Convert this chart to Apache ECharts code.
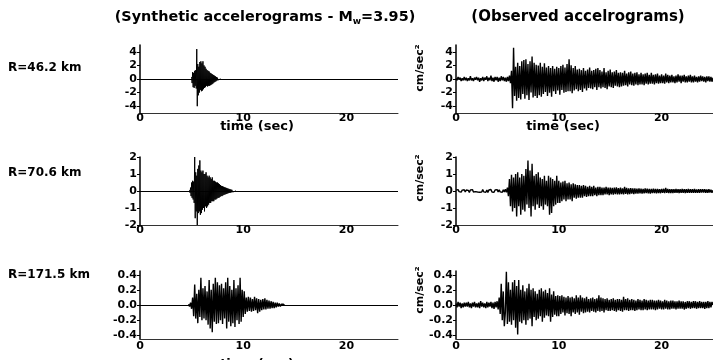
<!DOCTYPE html>
<html><head><meta charset="utf-8">
<script src="https://cdn.jsdelivr.net/npm/echarts@6/dist/echarts.min.js"></script>
<style>html,body{margin:0;padding:0;background:#fff}#c{width:713px;height:360px}</style>
</head><body><div id="c"></div>
<script>
// ---- labels ----
const colTitles = ['(Synthetic accelerograms - M', '(Observed accelrograms)'];
const rowLabels = ['R=46.2 km', 'R=70.6 km', 'R=171.5 km'];
const unitLabel = 'cm/sec²';
const timeLabel = 'time (sec)';
const xTicks = { min: 0, max: 25, interval: 10 };
const yRanges = [[-5, 5], [-2, 2], [-0.45, 0.45]];
const yTickVals = [[-4, -2, 0, 2, 4], [-2, -1, 0, 1, 2], [-0.4, -0.2, 0, 0.2, 0.4]];

// ---- synthetic traces (start time, sample step, values) ----
const syn1Start = 5.0, syn1Dt = 0.05;
const syn1 = [
  0.3,-0.6,1.0,-1.2,0.9,-1.3,1.2,-1.0,1.3,-1.4,
  4.4,-4.0,2.2,-2.4,1.8,-2.0,2.5,-1.6,2.6,-1.8,
  2.3,-1.7,2.6,-1.5,2.0,-1.3,1.8,-1.2,1.5,-1.0,
  1.3,-1.1,1.2,-1.0,1.1,-1.0,0.9,-0.9,0.8,-0.8,
  0.7,-0.7,0.6,-0.55,0.5,-0.45,0.4,-0.35,0.3,-0.25,
  0.2,-0.15,0.1,-0.08,0.05,-0.03,0.01,0];

const syn2Start = 4.8, syn2Dt = 0.05;
const syn2 = [
  0.05,-0.1,0.2,-0.3,0.5,-0.4,0.6,-0.5,0.55,-0.7,
  2.0,-1.6,1.1,-1.2,0.9,-2.0,1.3,-1.3,1.5,-1.2,
  1.8,-1.4,1.2,-1.3,1.1,-1.1,1.2,-1.0,1.0,-1.2,
  1.0,-0.9,1.1,-1.0,0.9,-0.9,0.8,-0.8,0.9,-0.7,
  0.8,-0.7,0.7,-0.6,0.8,-0.6,0.6,-0.6,0.6,-0.5,
  0.55,-0.5,0.5,-0.45,0.5,-0.4,0.45,-0.4,0.4,-0.35,
  0.35,-0.3,0.3,-0.3,0.28,-0.25,0.25,-0.22,0.22,-0.2,
  0.2,-0.18,0.18,-0.15,0.15,-0.13,0.13,-0.11,0.11,-0.1,
  0.09,-0.08,0.07,-0.06,0.05,-0.05,0.04,-0.03,0.02,-0.02,
  0.01,0];

const syn3Start = 4.7, syn3Dt = 0.1;
const syn3 = [
  0.01,-0.02,0.03,
  -0.05,0.1,-0.15,0.27,-0.18,0.15,-0.24,0.2,-0.16,0.36,
  -0.2,0.22,-0.18,0.25,-0.2,0.18,-0.26,0.33,-0.31,0.2,
  -0.36,0.28,-0.22,0.36,-0.25,0.3,-0.24,0.26,-0.2,0.28,
  -0.25,0.22,-0.18,0.3,-0.31,0.36,-0.22,0.25,-0.28,0.2,
  -0.24,0.33,-0.29,0.22,-0.2,0.26,-0.25,0.36,-0.22,0.2,
  -0.16,0.18,-0.12,0.1,-0.09,0.11,-0.08,0.1,-0.09,0.08,
  -0.08,0.11,-0.07,0.09,-0.11,0.08,-0.09,0.07,-0.07,0.08,
  -0.06,0.09,-0.06,0.07,-0.05,0.06,-0.05,0.05,-0.04,0.04,
  -0.04,0.03,-0.03,0.03,-0.02,0.02,-0.02,0.01,-0.01,0.01,
  0];

// ---- observed traces (start 0, step 0.1 s) ----
const obsStart = 0, obsDt = 0.1;
const obs1 = [
  0.1,-0.2,0.3,-0.1,0.2,-0.3,0.1,-0.2,0.3,-0.2,
  0.2,-0.3,0.1,-0.2,0.4,-0.2,0.1,-0.3,0.2,-0.1,
  0.3,-0.2,0.2,-0.4,0.1,-0.2,0.3,-0.3,0.2,-0.1,
  0.4,-0.3,0.2,-0.2,0.5,-0.3,0.2,-0.4,0.3,-0.2,
  0.3,-0.4,0.2,-0.3,0.4,-0.2,0.3,-0.3,0.2,-0.4,
  0.3,-0.3,0.5,-0.6,1.2,-4.3,4.6,-2.5,1.8,-3.2,
  2.4,-2.8,1.9,-3.0,2.6,-2.2,2.8,-2.9,2.9,-2.4,
  2.2,-3.1,2.6,-2.0,3.3,-2.7,2.4,-2.5,2.1,-2.8,
  2.0,-2.4,2.4,-2.6,1.8,-2.2,2.3,-1.9,1.7,-2.5,
  1.9,-2.0,1.6,-2.6,1.9,-1.8,1.5,-2.2,1.8,-1.7,
  1.6,-2.3,1.9,-1.6,2.1,-2.0,1.7,-1.9,2.2,-1.8,
  2.9,-1.8,2.0,-2.1,1.6,-1.7,1.9,-1.5,1.4,-1.8,
  1.5,-1.6,1.3,-1.9,1.6,-1.4,1.2,-1.7,1.4,-1.3,
  1.7,-1.4,1.2,-1.5,1.3,-1.2,1.5,-1.6,1.6,-1.2,
  1.3,-1.4,1.1,-1.2,1.6,-1.3,1.0,-1.5,1.2,-1.1,
  1.4,-1.2,1.0,-1.3,1.1,-1.0,1.3,-1.1,0.9,-1.2,
  1.0,-1.1,0.9,-1.0,1.2,-0.9,0.8,-1.1,1.0,-0.8,
  1.1,-0.9,0.8,-1.0,0.9,-0.8,1.0,-0.9,0.7,-0.8,
  0.9,-0.8,0.7,-0.9,0.8,-0.7,0.9,-0.8,0.6,-0.7,
  0.9,-0.7,0.6,-0.8,0.7,-0.6,0.8,-0.7,0.5,-0.6,
  0.7,-0.6,0.5,-0.7,0.8,-0.5,0.6,-0.6,0.5,-0.5,
  0.6,-0.5,0.4,-0.6,0.5,-0.5,0.7,-0.4,0.5,-0.6,
  0.5,-0.4,0.6,-0.5,0.4,-0.5,0.5,-0.4,0.6,-0.5,
  0.4,-0.5,0.5,-0.4,0.3,-0.5,0.4,-0.4,0.5,-0.3,
  0.4,-0.4,0.3,-0.5,0.4,-0.3,0.4,-0.4,0.3,-0.4,
  0.2];

const obs2 = [
  0.05,-0.06,0.08,-0.04,0.06,-0.07,0.05,-0.05,0.07,-0.06,
  0.06,-0.05,0.04,-0.08,0.06,-0.05,0.08,-0.06,0.05,-0.04,
  0.07,-0.06,0.05,-0.07,0.04,-0.06,0.08,-0.05,0.06,-0.07,
  0.05,-0.08,0.06,-0.05,0.09,-0.06,0.05,-0.07,0.06,-0.05,
  0.08,-0.06,0.07,-0.05,0.06,-0.08,0.07,-0.06,0.1,-0.08,
  0.2,-0.3,0.7,-0.9,0.95,-1.2,0.8,-1.0,1.0,-1.5,
  1.1,-0.9,0.8,-1.4,1.0,-1.1,0.9,-1.2,1.3,-0.8,
  1.8,-1.0,1.2,-1.5,1.6,-0.9,0.9,-1.1,1.0,-0.8,
  1.1,-1.0,0.8,-0.9,0.7,-1.1,0.9,-0.8,0.6,-0.9,
  0.9,-1.4,0.8,-1.3,0.7,-0.9,0.6,-0.8,0.9,-0.7,
  0.6,-0.7,0.5,-0.6,0.55,-0.5,0.6,-0.6,0.45,-0.5,
  0.5,-0.5,0.4,-0.6,0.45,-0.4,0.4,-0.45,0.35,-0.4,
  0.35,-0.4,0.3,-0.4,0.35,-0.3,0.3,-0.35,0.25,-0.3,
  0.3,-0.3,0.25,-0.3,0.3,-0.25,0.2,-0.3,0.25,-0.25,
  0.25,-0.25,0.2,-0.25,0.2,-0.2,0.25,-0.2,0.2,-0.25,
  0.2,-0.2,0.18,-0.22,0.2,-0.18,0.22,-0.2,0.17,-0.2,
  0.2,-0.18,0.16,-0.2,0.25,-0.17,0.18,-0.2,0.15,-0.18,
  0.17,-0.16,0.15,-0.18,0.16,-0.15,0.14,-0.16,0.15,-0.14,
  0.14,-0.15,0.13,-0.14,0.15,-0.13,0.14,-0.14,0.12,-0.15,
  0.13,-0.12,0.14,-0.13,0.12,-0.14,0.13,-0.12,0.11,-0.13,
  0.12,-0.11,0.13,-0.12,0.18,-0.11,0.12,-0.12,0.1,-0.12,
  0.11,-0.12,0.1,-0.11,0.12,-0.1,0.11,-0.12,0.1,-0.11,
  0.12,-0.1,0.11,-0.12,0.1,-0.11,0.12,-0.1,0.11,-0.1,
  0.1,-0.11,0.12,-0.1,0.09,-0.11,0.1,-0.1,0.11,-0.09,
  0.1,-0.09,0.11,-0.1,0.09,-0.1,0.1,-0.09,0.08,-0.1,
  0.05];

const obs3 = [
  0.02,-0.03,0.04,-0.02,0.03,-0.04,0.02,-0.03,0.03,-0.02,
  0.03,-0.02,0.04,-0.03,0.02,-0.04,0.03,-0.02,0.04,-0.03,
  0.02,-0.03,0.03,-0.04,0.05,-0.02,0.03,-0.03,0.02,-0.04,
  0.04,-0.03,0.03,-0.02,0.04,-0.04,0.03,-0.05,0.04,-0.03,
  0.05,-0.06,0.1,-0.12,0.28,-0.2,0.18,-0.28,-0.1,0.44,
  -0.25,0.3,-0.22,0.2,-0.26,0.3,-0.2,0.33,-0.3,0.25,
  -0.39,0.33,-0.22,0.2,-0.24,0.26,-0.2,0.18,-0.26,0.22,
  -0.2,0.28,-0.18,0.2,-0.28,0.22,-0.16,0.18,-0.2,0.15,
  -0.18,0.2,-0.15,0.22,-0.22,0.18,-0.17,0.2,-0.14,0.16,
  -0.15,0.22,-0.22,0.14,-0.16,0.18,-0.13,0.12,-0.15,0.13,
  -0.15,0.12,-0.12,0.13,-0.1,0.11,-0.14,0.1,-0.11,0.12,
  -0.12,0.1,-0.15,0.11,-0.1,0.09,-0.12,0.13,-0.1,0.1,
  -0.13,0.13,-0.09,0.1,-0.11,0.09,-0.1,0.11,-0.09,0.08,
  -0.1,0.09,-0.08,0.1,-0.09,0.08,-0.1,0.09,-0.08,0.13,
  -0.09,0.1,-0.08,0.09,-0.1,0.08,-0.07,0.09,-0.08,0.07,
  -0.08,0.08,-0.07,0.09,-0.08,0.07,-0.09,0.08,-0.07,0.08,
  -0.08,0.07,-0.09,0.11,-0.07,0.08,-0.07,0.09,-0.08,0.07,
  -0.07,0.08,-0.07,0.07,-0.08,0.06,-0.07,0.08,-0.06,0.07,
  -0.07,0.06,-0.07,0.08,-0.06,0.07,-0.07,0.06,-0.06,0.07,
  -0.06,0.07,-0.06,0.06,-0.07,0.06,-0.06,0.07,-0.05,0.06,
  -0.06,0.05,-0.06,0.07,-0.05,0.06,-0.06,0.05,-0.06,0.06,
  -0.05,0.06,-0.05,0.05,-0.06,0.05,-0.05,0.06,-0.05,0.05,
  -0.05,0.05,-0.06,0.04,-0.05,0.05,-0.04,0.05,-0.05,0.04,
  -0.04,0.05,-0.04,0.05,-0.05,0.04,-0.04,0.05,-0.04,0.04,
  -0.04,0.04,-0.05,0.04,-0.04,0.05,-0.04,0.04,-0.03,0.04,
  0];

// ---- build ----
function toXY(start, dt, vals) { return vals.map((v, i) => [+(start + i * dt).toFixed(3), v]); }
const FONT = 'DejaVu Sans';
const traces = [
  { data: toXY(syn1Start, syn1Dt, syn1), row: 0, col: 0, zero: true },
  { data: toXY(obsStart, obsDt, obs1), row: 0, col: 1 },
  { data: toXY(syn2Start, syn2Dt, syn2), row: 1, col: 0, zero: true },
  { data: toXY(obsStart, obsDt, obs2), row: 1, col: 1 },
  { data: toXY(syn3Start, syn3Dt, syn3), row: 2, col: 0, zero: true },
  { data: toXY(obsStart, obsDt, obs3), row: 2, col: 1 }
];
const colLeft = [140, 456], colWidth = [258, 259];
const rowTop = [45, 157, 271], rowH = 68;

const grid = [], xAxis = [], yAxis = [], series = [];
traces.forEach((t, i) => {
  grid.push({ left: colLeft[t.col], top: rowTop[t.row], width: colWidth[t.col], height: rowH, containLabel: false });
  xAxis.push({
    type: 'value', gridIndex: i, min: xTicks.min, max: xTicks.max, interval: xTicks.interval,
    axisLine: { show: true, onZero: false, lineStyle: { color: '#333', width: 1 } },
    axisTick: { show: false }, splitLine: { show: false },
    axisLabel: { color: '#000', fontFamily: FONT, fontWeight: 'bold', fontSize: 11,
      margin: t.row === 2 ? 2 : 0, showMaxLabel: false }
  });
  const vals = yTickVals[t.row];
  yAxis.push({
    type: 'value', gridIndex: i, min: yRanges[t.row][0], max: yRanges[t.row][1],
    axisLine: { show: true, onZero: false, lineStyle: { color: '#000', width: 1.5 } },
    axisTick: { show: true, length: 3, customValues: vals, lineStyle: { color: '#000' } },
    splitLine: { show: false },
    axisLabel: { color: '#000', fontFamily: FONT, fontWeight: 'bold', fontSize: 11, margin: 3,
      customValues: vals,
      formatter: v => t.row === 2 ? v.toFixed(1) : String(v) }
  });
  const s = {
    type: 'line', xAxisIndex: i, yAxisIndex: i, data: t.data, showSymbol: false, symbol: 'none',
    sampling: null, animation: false, silent: true,
    lineStyle: { color: '#000', width: t.col === 1 || t.row === 2 ? 1.4 : 1 }
  };
  if (t.zero) {
    s.markLine = { silent: true, symbol: 'none', label: { show: false }, animation: false,
      lineStyle: { color: '#000', width: 1.2, type: 'solid' }, data: [{ yAxis: 0 }] };
  }
  series.push(s);
});

const txt = (x, y, text, size, extra) => Object.assign({
  type: 'text', x, y, silent: true,
  style: Object.assign({ text, fill: '#000', font: 'bold ' + size + 'px "' + FONT + '"', align: 'center', verticalAlign: 'middle' }, extra || {})
});
const graphic = [
  { type: 'text', x: 265, y: 17, silent: true,
    style: { text: '{a|' + colTitles[0] + '}{s|w}{a|=3.95)}', align: 'center', verticalAlign: 'middle',
      rich: { a: { fill: '#000', font: 'bold 14.4px "' + FONT + '"', lineHeight: 18 },
              s: { fill: '#000', font: 'bold 9px "' + FONT + '"', verticalAlign: 'bottom', lineHeight: 18 } } } },
  txt(578, 17, colTitles[1], 15),
  txt(8, 68, rowLabels[0], 12, { align: 'left' }),
  txt(8, 173, rowLabels[1], 12, { align: 'left' }),
  txt(8, 275, rowLabels[2], 12, { align: 'left' }),
  txt(257, 127, timeLabel, 13),
  txt(563, 127, timeLabel, 13),
  txt(257, 365, timeLabel, 13),
  Object.assign(txt(420, 68, unitLabel, 11), { rotation: Math.PI / 2 }),
  Object.assign(txt(420, 178, unitLabel, 11), { rotation: Math.PI / 2 }),
  Object.assign(txt(420, 290, unitLabel, 11), { rotation: Math.PI / 2 })
];

const chart = echarts.init(document.getElementById('c'), null, { renderer: 'canvas' });
chart.setOption({ backgroundColor: '#fff', animation: false, grid, xAxis, yAxis, series, graphic });
</script></body></html>
